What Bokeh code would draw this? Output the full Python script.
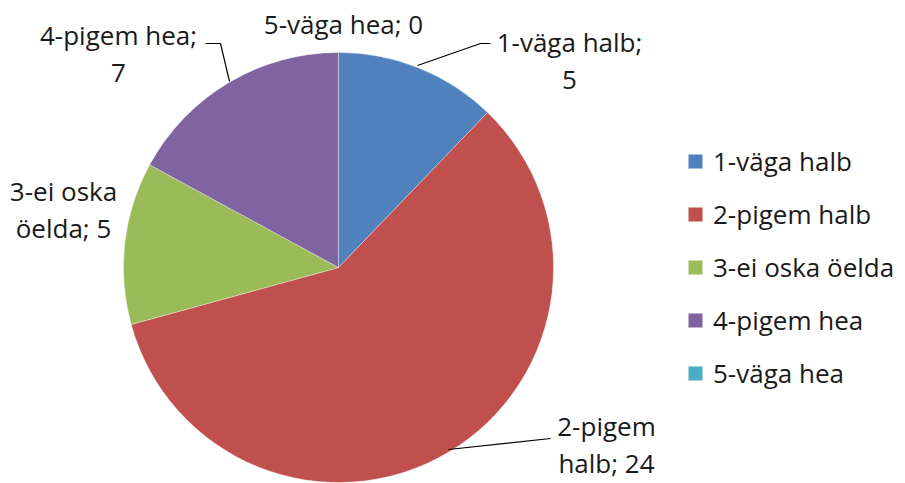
import math
from bokeh.plotting import figure
from bokeh.models import ColumnDataSource, Range1d
from bokeh.core.properties import value
from bokeh.embed import file_html
from bokeh.resources import INLINE

categories = ["1-väga halb", "2-pigem halb", "3-ei oska öelda", "4-pigem hea", "5-väga hea"]
counts = [5, 24, 5, 7, 0]
colors = ["#4F81BD", "#C0504D", "#9BBB59", "#8064A2", "#4BACC6"]

FONT = "Open Sans"
W, H = 905, 483


def fy(y):
    # image-y (from top) -> data-y
    return H - y


total = sum(counts)
starts, ends = [], []
acc = 0.0
for c in counts:
    a0 = math.pi / 2 - 2 * math.pi * acc / total
    acc += c
    a1 = math.pi / 2 - 2 * math.pi * acc / total
    starts.append(a0)
    ends.append(a1)

cx, cy, R = 338, fy(267), 215
radii = [R if c > 0 else 0 for c in counts]

src = ColumnDataSource(dict(cat=categories, val=counts, color=colors,
                            start=starts, end=ends, r=radii))

p = figure(width=W, height=H, output_backend="svg", toolbar_location=None,
           x_range=Range1d(0, W), y_range=Range1d(0, H), min_border=0)
p.axis.visible = False
p.grid.visible = False
p.outline_line_color = None
p.background_fill_color = "white"

p.wedge(x=cx, y=cy, radius="r", start_angle="start", end_angle="end", direction="clock",
        fill_color="color", line_color="white", line_width=0.6, line_alpha=0.6,
        source=src, legend_field="cat")

# data labels
label_text = []
for i, (c, v) in enumerate(zip(categories, counts)):
    if i == 1:
        t = c.replace(" ", "\n", 1) + f"; {v}"
    elif i == 2:
        t = c.replace(" öelda", "\nöelda") + f"; {v}"
    elif i == 4:
        t = f"{c}; {v}"
    else:
        t = f"{c};\n{v}"
    label_text.append(t)

lx = [569, 606, 63, 118, 343]
ly = [fy(60), fy(444), fy(209), fy(53), fy(23)]
p.text(x=lx, y=ly, text=label_text, text_font=value(FONT), text_font_size="26px",
       text_color="#1a1a1a", text_align="center", text_baseline="middle",
       text_line_height=1.05)

# leader lines
p.line(x=[417, 480, 490], y=[fy(65), fy(43), fy(43)], line_color="black", line_width=1.2)
p.line(x=[448, 550], y=[fy(449), fy(438)], line_color="black", line_width=1.2)
p.line(x=[205, 220, 229], y=[fy(43), fy(43), fy(81)], line_color="black", line_width=1.2)

lg = p.legend[0]
lg.location = (686, fy(391))
lg.border_line_color = None
lg.background_fill_alpha = 0
lg.label_text_font = FONT
lg.label_text_font_size = "26px"
lg.label_text_color = "#1a1a1a"
lg.glyph_width = 18
lg.glyph_height = 18
lg.label_height = 36
lg.label_standoff = 9
lg.spacing = 17
lg.padding = 0
lg.margin = 0

open("out.html", "w").write(file_html(p, INLINE))
